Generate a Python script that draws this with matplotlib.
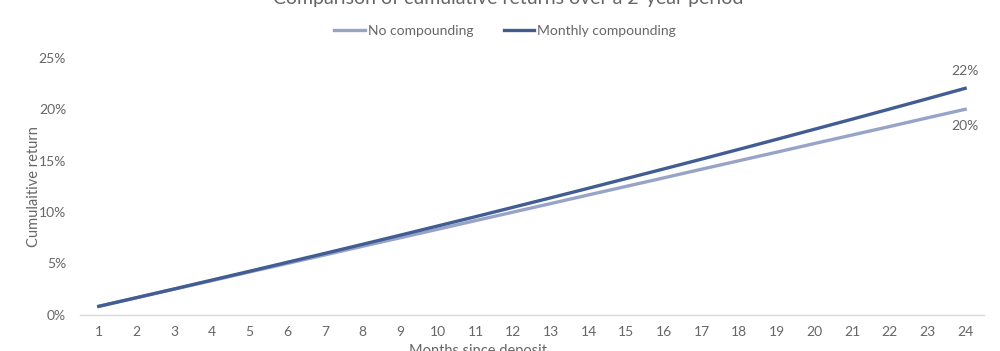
import matplotlib.pyplot as plt

# Data
months = list(range(1, 25))
no_compounding = [0.83, 1.67, 2.50, 3.33, 4.17, 5.00, 5.83, 6.67, 7.50, 8.33, 9.17, 10.00,
                  10.83, 11.67, 12.50, 13.33, 14.17, 15.00, 15.83, 16.67, 17.50, 18.33, 19.17, 20.00]
monthly_compounding = [0.83, 1.67, 2.52, 3.38, 4.24, 5.11, 5.98, 6.86, 7.75, 8.65, 9.55, 10.47,
                       11.39, 12.32, 13.26, 14.20, 15.15, 16.11, 17.08, 18.06, 19.04, 20.03, 21.03, 22.04]
y_ticks = [0, 5, 10, 15, 20, 25]

c_light = '#98a3c8'
c_dark = '#425d93'
c_text = '#666666'

plt.rcParams['font.family'] = ['Lato', 'DejaVu Sans']

fig = plt.figure(figsize=(10, 3.51), dpi=100)
ax = fig.add_axes([0.080, 0.103, 0.904, 0.732])

x = list(range(len(months)))
ax.plot(x, no_compounding, color=c_light, lw=2.4, label='No compounding')
ax.plot(x, monthly_compounding, color=c_dark, lw=2.4, label='Monthly compounding')

ax.set_xlim(-0.5, len(months) - 0.5)
ax.set_ylim(0, 25)
ax.set_xticks(x)
ax.set_xticklabels([str(m) for m in months])
ax.set_yticks(y_ticks)
ax.set_yticklabels([f'{t}%' for t in y_ticks])
ax.tick_params(length=0, labelsize=10, colors=c_text, pad=8)
ax.tick_params(axis='y', pad=10)

for s in ['top', 'right', 'left']:
    ax.spines[s].set_visible(False)
ax.spines['bottom'].set_color('#d9d9d9')
ax.spines['bottom'].set_linewidth(1)

# end labels
ax.annotate(f'{monthly_compounding[-1]:.0f}%', (x[-1], monthly_compounding[-1]),
            xytext=(0, 8), textcoords='offset points', ha='center', va='bottom',
            fontsize=10, color=c_text)
ax.annotate(f'{no_compounding[-1]:.0f}%', (x[-1], no_compounding[-1]),
            xytext=(0, -8), textcoords='offset points', ha='center', va='top',
            fontsize=10, color=c_text)

ax.set_ylabel('Cumulaitive return', fontsize=10.5, color=c_text)
ax.yaxis.set_label_coords(-0.043, 0.5)
fig.text(0.478, 0.0, 'Months since deposit', ha='center', va='center',
         fontsize=10.5, color=c_text)
fig.text(0.508, 1.004, 'Comparison of cumulative returns over a 2-year period',
         ha='center', va='center', fontsize=14, color=c_text)

fig.legend(loc='center', bbox_to_anchor=(0.505, 0.913), ncol=2, frameon=False,
           fontsize=10, labelcolor=c_text, handlelength=2.2, handletextpad=0.2,
           columnspacing=2.2)

fig.savefig('out.png', dpi=100)
